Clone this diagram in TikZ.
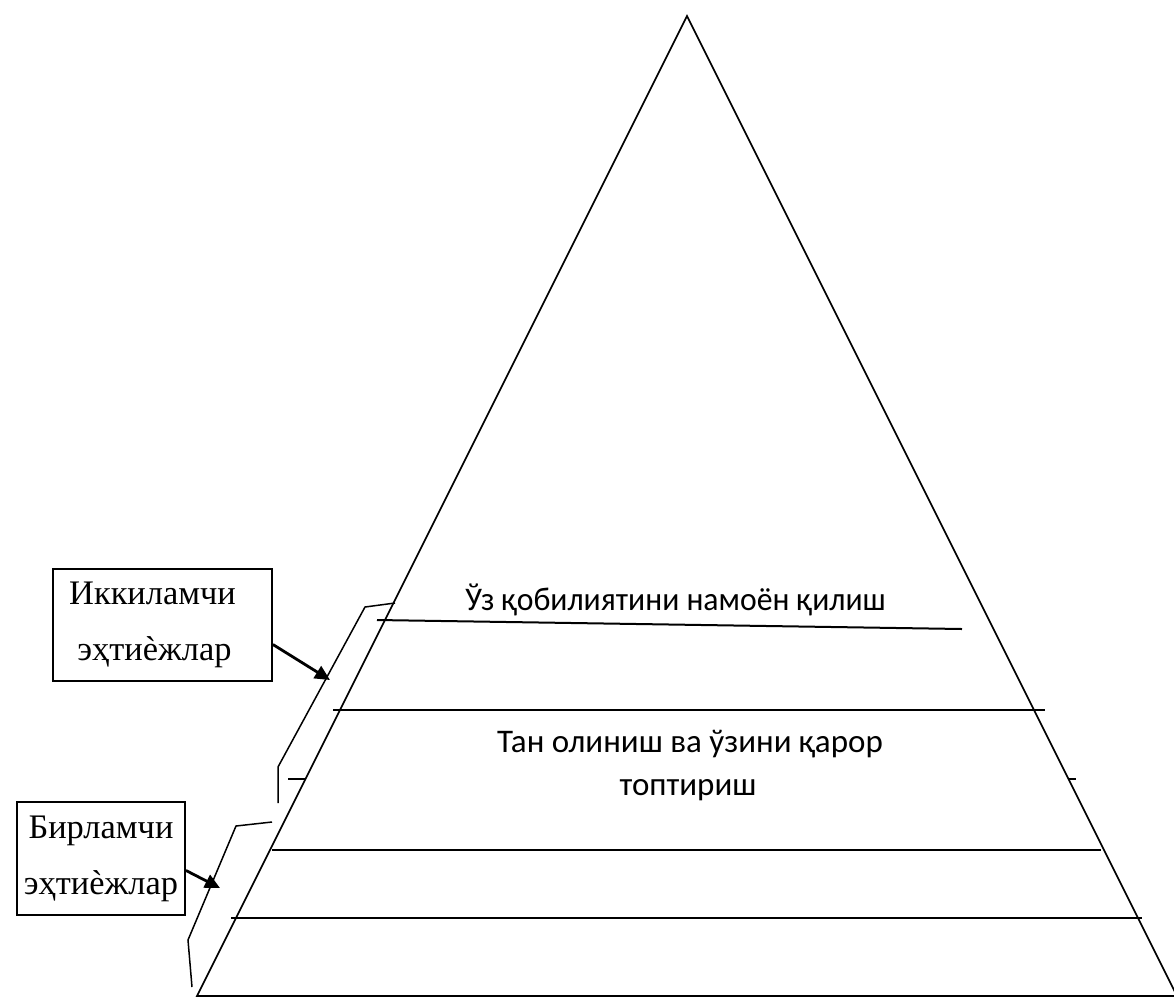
\documentclass[tikz,border=0pt]{standalone}
\usepackage{fontspec}
\setmainfont{Liberation Serif}
\newfontfamily\pyrfont{Carlito}
\usetikzlibrary{arrows.meta}

\begin{document}
\begin{tikzpicture}[x=0.5pt, y=-0.5pt,
  box/.style={draw, line width=0.9pt, align=center, inner sep=0pt, font=\fontsize{17.2}{28}\selectfont},
  pyr/.style={font=\pyrfont\fontsize{16.5}{20}\selectfont, inner sep=0pt},
  tip/.style={line width=1.4pt, -{Triangle[length=7.5pt, width=7pt]}}]
\useasboundingbox (0,0) rectangle (1174,998);
\draw[line width=0.8pt] (687,16) -- (197,996) -- (1177,996) -- cycle;
\draw[line width=1pt] (377,620) -- (962,629);
\foreach \xa/\xb/\y in {333/1045/710, 288/305/779, 1068/1076/779, 272/1101/850, 231/1142/918}{
\draw[line width=1pt] (\xa,\y) -- (\xb,\y);
}
\draw[line width=0.75pt] (395,603) -- (365,607) -- (278,767) -- (278,803);
\draw[line width=0.75pt] (272,822) -- (236,826) -- (188,940) -- (192,987);
\node[pyr, anchor=base] (self) at (675.5,610) {\scalebox{0.96}[1]{Ўз қобилиятини намоён қилиш}};
\node[pyr, anchor=base] (esteem) at (690,752) {Тан олиниш ва ўзини қарор};
\node[pyr, anchor=base] (esteemb) at (688,795) {топтириш};
\node[box, minimum width=109.5pt, minimum height=56pt] (ikki) at (162.5,625) {Иккиламчи\hspace*{10pt}\\эҳтиѐжлар\hspace*{8pt}};
\node[box, minimum width=84pt, minimum height=56.5pt] (bir) at (101,858.5) {Бирламчи\\эҳтиѐжлар};
\coordinate (ikkitip) at (330,680);
\coordinate (birtip) at (220,888);
\draw[tip] (ikki.-10) -- (ikkitip);
\draw[tip] (bir.-8) -- (birtip);
\end{tikzpicture}
\end{document}
